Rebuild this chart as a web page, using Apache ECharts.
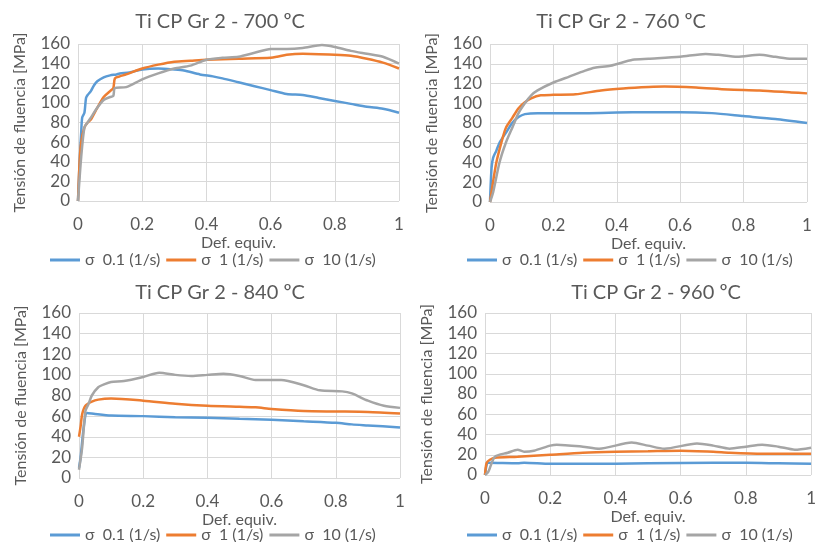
<!DOCTYPE html>
<html>
<head>
<meta charset="utf-8">
<script src="https://cdn.jsdelivr.net/npm/echarts@6/dist/echarts.min.js"></script>
<style>
  html, body { margin: 0; padding: 0; background: #fff; }
  #main { width: 819px; height: 542px; }
</style>
</head>
<body>
<div id="main"></div>
<script>
// curve data, [deformation, stress MPa]
var titles = ["Ti CP Gr 2 - 700 ºC", "Ti CP Gr 2 - 760 ºC", "Ti CP Gr 2 - 840 ºC", "Ti CP Gr 2 - 960 ºC"];
var rateNames = ["σ  0.1 (1/s)", "σ  1 (1/s)", "σ  10 (1/s)"];
var xTicks = [0, 0.2, 0.4, 0.6, 0.8, 1];
var yTicks = [0, 20, 40, 60, 80, 100, 120, 140, 160];

var t700_r01 = [[0,0],[0.005,40],[0.01,70],[0.013,85],[0.02,90],[0.025,105],[0.03,108],[0.04,112],[0.05,118],[0.06,122],[0.08,126],[0.1,128],[0.12,129],[0.13,130],[0.16,131],[0.2,134],[0.25,135],[0.3,134],[0.33,133],[0.38,129],[0.42,127],[0.45,125],[0.5,121],[0.55,117],[0.6,113],[0.65,109],[0.7,108],[0.75,105],[0.8,102],[0.85,99],[0.9,96],[0.95,94],[1.0,90]];
var t700_r1 = [[0,0],[0.005,40],[0.01,60],[0.02,75],[0.03,80],[0.04,83],[0.06,95],[0.08,106],[0.1,112],[0.11,115],[0.115,125],[0.13,127],[0.15,129],[0.2,135],[0.25,139],[0.3,142],[0.35,143],[0.4,144],[0.5,145],[0.6,146],[0.62,147],[0.65,149],[0.7,150],[0.8,149],[0.85,148],[0.9,145],[0.95,141],[1.0,135]];
var t700_r10 = [[0,0],[0.01,45],[0.02,75],[0.03,80],[0.04,85],[0.06,95],[0.08,103],[0.1,106],[0.11,107],[0.115,115],[0.15,116],[0.2,124],[0.25,130],[0.3,135],[0.35,138],[0.4,144],[0.45,146],[0.5,147],[0.55,151],[0.6,155],[0.65,155],[0.7,156],[0.76,159],[0.8,157],[0.85,153],[0.9,150],[0.95,147],[1.0,140]];

var t760_r01 = [[0,0],[0.005,35],[0.01,45],[0.02,52],[0.03,60],[0.05,70],[0.07,80],[0.09,86],[0.11,89],[0.15,90],[0.3,90],[0.45,91],[0.6,91],[0.7,90],[0.8,87],[0.9,84],[1.0,80]];
var t760_r1 = [[0,0],[0.02,40],[0.04,65],[0.05,75],[0.07,85],[0.09,95],[0.11,101],[0.13,105],[0.16,108],[0.2,108.5],[0.27,109],[0.35,113],[0.42,115],[0.5,116.5],[0.55,117],[0.65,116],[0.75,114],[0.85,113],[0.95,111],[1.0,110]];
var t760_r10 = [[0,0],[0.01,10],[0.03,40],[0.05,60],[0.07,75],[0.09,90],[0.11,100],[0.13,108],[0.15,113],[0.2,121],[0.25,127],[0.3,133],[0.33,136],[0.38,138],[0.45,144],[0.5,145],[0.6,147],[0.68,150],[0.72,149],[0.78,147],[0.85,149],[0.9,147],[0.95,145],[1.0,145]];

var t840_r01 = [[0,10],[0.005,20],[0.015,50],[0.025,63],[0.05,62],[0.1,60.5],[0.2,60],[0.3,59],[0.4,58.5],[0.5,57.5],[0.6,56.5],[0.7,55],[0.8,53.5],[0.85,52],[0.9,51],[1.0,49]];
var t840_r1 = [[0,40],[0.005,50],[0.01,62],[0.02,70],[0.04,74],[0.06,76],[0.1,77],[0.2,75],[0.3,72],[0.4,70],[0.5,69],[0.55,68.5],[0.6,67],[0.7,65],[0.8,64.5],[0.9,64],[1.0,62.5]];
var t840_r10 = [[0,8],[0.01,30],[0.02,65],[0.03,72],[0.04,80],[0.06,88],[0.08,91],[0.1,93],[0.14,94],[0.2,98],[0.25,102],[0.3,100],[0.35,99],[0.4,100],[0.45,101],[0.5,99],[0.55,95],[0.63,95],[0.7,90],[0.75,85],[0.82,84],[0.85,82],[0.9,75],[0.95,70],[1.0,68]];

var t960_r01 = [[0,0],[0.005,10],[0.01,12],[0.1,11.5],[0.12,12],[0.2,11],[0.3,11],[0.5,11.5],[0.7,12],[0.8,12],[0.9,11.5],[1.0,11]];
var t960_r1 = [[0,0],[0.005,12],[0.015,15],[0.03,17],[0.1,18],[0.2,20],[0.3,22],[0.4,23],[0.5,23.5],[0.6,24],[0.7,23],[0.75,22],[0.85,21],[0.95,21],[1.0,21]];
var t960_r10 = [[0,0],[0.01,3],[0.03,18],[0.07,22],[0.1,25],[0.12,23],[0.15,24],[0.2,29],[0.22,30],[0.3,28],[0.35,26],[0.45,32],[0.5,29],[0.55,26],[0.65,31],[0.7,29],[0.75,26],[0.8,28],[0.85,30],[0.9,28],[0.95,25],[1.0,27]];

var panelData = [
  [t700_r01, t700_r1, t700_r10],
  [t760_r01, t760_r1, t760_r10],
  [t840_r01, t840_r1, t840_r10],
  [t960_r01, t960_r1, t960_r10]
];

var colors = ["#5B9BD5", "#ED7D31", "#A5A5A5"];
var font = "Lato, 'Open Sans', sans-serif";
var txt = "#595959";
var gridLine = "#D9D9D9";

// plot area boxes (left, right, top, bottom)
var grids = [
  { left: 78, right: 420, top: 44, bottom: 341 },
  { left: 490, right: 12, top: 44, bottom: 340 },
  { left: 79, right: 419, top: 313, bottom: 64 },
  { left: 485, right: 1, top: 313, bottom: 67 }
];
var titlePos = [[215, 7], [616, 7], [215, 278], [651, 278]];
var legendPos = [[215, 247], [632, 247], [215, 522], [632, 522]];

var myChart = echarts.init(document.getElementById("main"));
var option = {
  animation: false,
  color: colors,
  textStyle: { fontFamily: font },
  title: [],
  legend: [],
  grid: [],
  xAxis: [],
  yAxis: [],
  series: []
};

for (let i = 0; i < 4; i++) {
  option.title.push({
    text: titles[i],
    left: titlePos[i][0],
    top: titlePos[i][1],
    textAlign: "center",
    textStyle: { color: txt, fontSize: 20, fontWeight: "normal", fontFamily: font }
  });
  option.legend.push({
    data: rateNames,
    left: legendPos[i][0] - 170,
    top: legendPos[i][1],
    width: 380,
    itemWidth: 30,
    itemHeight: 3,
    itemGap: 6,
    icon: "rect",
    textStyle: { color: txt, fontSize: 16, fontFamily: font }
  });
  option.grid.push(Object.assign({ containLabel: false }, grids[i]));
  option.xAxis.push({
    gridIndex: i,
    type: "value",
    min: 0,
    max: 1,
    interval: 0.2,
    name: "Def. equiv.",
    nameLocation: "middle",
    nameGap: 34,
    nameTextStyle: { color: txt, fontSize: 16, fontFamily: font },
    axisLine: { show: false },
    axisTick: { show: false },
    axisLabel: { color: txt, fontSize: 17, margin: 15, fontFamily: font },
    splitLine: { show: true, lineStyle: { color: gridLine, width: 1 } }
  });
  option.yAxis.push({
    gridIndex: i,
    type: "value",
    min: 0,
    max: 160,
    interval: 20,
    name: "Tensión de fluencia [MPa]",
    nameLocation: "middle",
    nameGap: 50,
    nameTextStyle: { color: txt, fontSize: 16, fontFamily: font },
    axisLine: { show: false },
    axisTick: { show: false },
    axisLabel: { color: txt, fontSize: 17, margin: 8, fontFamily: font },
    splitLine: { show: true, lineStyle: { color: gridLine, width: 1 } }
  });
  for (let j = 0; j < 3; j++) {
    option.series.push({
      name: rateNames[j],
      type: "line",
      xAxisIndex: i,
      yAxisIndex: i,
      data: panelData[i][j],
      showSymbol: false,
      smooth: 0.25,
      lineStyle: { width: 2.5, color: colors[j] },
      itemStyle: { color: colors[j] }
    });
  }
}

myChart.setOption(option);
</script>
</body>
</html>
